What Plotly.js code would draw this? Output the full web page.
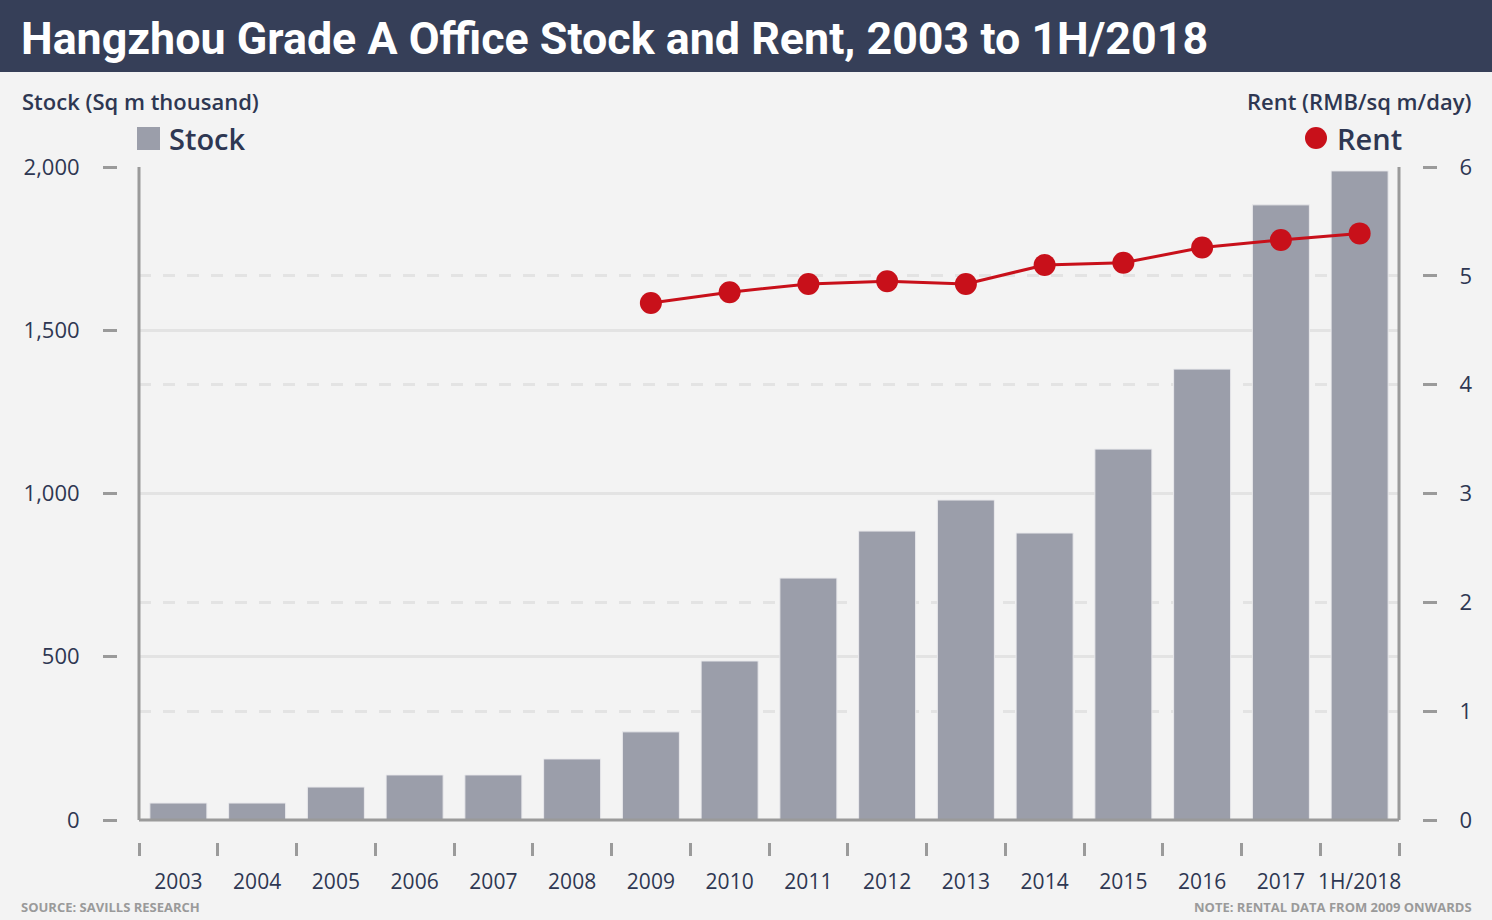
<!DOCTYPE html>
<html>
<head>
<meta charset="utf-8">
<script src="https://cdn.plot.ly/plotly-3.0.1.min.js"></script>
<style>
  html, body { margin: 0; padding: 0; background: #f3f3f3; }
  #chart { width: 1492px; height: 920px; }
</style>
</head>
<body>
<div id="chart"></div>
<script>
// ---- Data ----
const categories = ['2003','2004','2005','2006','2007','2008','2009','2010','2011','2012','2013','2014','2015','2016','2017','1H/2018'];
const stockValues = [52, 52, 101, 138, 138, 187, 270, 487, 741, 885, 980, 879, 1136, 1381, 1884, 1988];
const rentCategories = ['2009','2010','2011','2012','2013','2014','2015','2016','2017','1H/2018'];
const rentValues = [4.75, 4.85, 4.925, 4.95, 4.925, 5.10, 5.12, 5.26, 5.33, 5.39];
const stockTicks = [0, 500, 1000, 1500, 2000];
const rentTicks = [0, 1, 2, 3, 4, 5, 6];

// ---- Geometry helpers (pixel -> paper) ----
const W = 1492, H = 920;
const ML = 117, MR = 70, MT = 167, MB = 78;
const PW = W - ML - MR, PH = H - MT - MB;
const px = x => (x - ML) / PW;
const py = y => (H - MB - y) / PH;

const textColor = '#2e3752';
const tickGrey = '#9a9a9a';
const stockColor = '#9b9eaa';
const rentColor = '#c8101a';
const baseFont = '"Open Sans", sans-serif';

const traces = [
  {
    type: 'bar',
    x: categories,
    y: stockValues,
    name: 'Stock',
    marker: { color: stockColor, line: { color: '#e9e9ec', width: 1 } },
    showlegend: false,
    hoverinfo: 'x+y'
  },
  {
    type: 'scatter',
    mode: 'lines+markers',
    x: rentCategories,
    y: rentValues,
    yaxis: 'y2',
    name: 'Rent',
    line: { color: rentColor, width: 3 },
    marker: { color: rentColor, size: 22 },
    showlegend: false,
    hoverinfo: 'x+y'
  }
];

const layout = {
  width: W, height: H,
  margin: { l: ML, r: MR, t: MT, b: MB, pad: 0 },
  paper_bgcolor: '#f3f3f3',
  plot_bgcolor: '#f3f3f3',
  font: { family: baseFont, color: textColor, size: 22 },
  bargap: 0.276,
  title: {
    text: 'Hangzhou Grade A Office Stock and Rent, 2003 to 1H/2018',
    xref: 'container', yref: 'container',
    x: 21 / W, xanchor: 'left',
    y: 1 - 38 / H, yanchor: 'middle',
    font: { family: 'Roboto, sans-serif', size: 44.8, color: '#ffffff', weight: 700 }
  },
  xaxis: {
    type: 'category',
    domain: [px(139), px(1399)],
    anchor: 'free', position: 0,
    range: [-0.5, categories.length - 0.5],
    showline: false, showgrid: false, zeroline: false,
    ticks: 'outside', tickson: 'boundaries', ticklen: 13, tickwidth: 3, tickcolor: tickGrey,
    tickangle: 0,
    ticklabelstandoff: 25,
    tickfont: { size: 21, color: textColor }
  },
  yaxis: {
    domain: [py(820), 1],
    anchor: 'free', position: 0,
    range: [0, 2000],
    tickvals: stockTicks,
    tickformat: ',d',
    showline: false, zeroline: false,
    showgrid: true, gridcolor: '#e3e3e3', gridwidth: 3,
    ticks: 'outside', ticklen: 14, tickwidth: 3, tickcolor: tickGrey,
    ticklabelstandoff: 19,
    tickfont: { size: 22, color: textColor }
  },
  yaxis2: {
    overlaying: 'y',
    side: 'right',
    anchor: 'free', position: 1,
    range: [0, 6],
    tickvals: rentTicks,
    showline: false, zeroline: false,
    showgrid: true, gridcolor: '#e3e3e3', gridwidth: 3, griddash: '12px,12px',
    ticks: 'outside', ticklen: 14, tickwidth: 3, tickcolor: tickGrey,
    ticklabelstandoff: 18,
    tickfont: { size: 22, color: textColor }
  },
  shapes: [
    // title bar
    { type: 'rect', xref: 'paper', yref: 'paper', x0: px(0), x1: px(W), y0: py(72), y1: py(0),
      fillcolor: '#363f58', line: { width: 0 }, layer: 'below' },
    // left axis line
    { type: 'line', xref: 'x domain', yref: 'y domain', x0: 0, x1: 0, y0: 0, y1: 1,
      line: { color: tickGrey, width: 3 } },
    // right axis line
    { type: 'line', xref: 'x domain', yref: 'y domain', x0: 1, x1: 1, y0: 0, y1: 1,
      line: { color: tickGrey, width: 3 } },
    // bottom axis line
    { type: 'line', xref: 'x domain', yref: 'y domain', x0: 0, x1: 1, y0: 0, y1: 0,
      line: { color: tickGrey, width: 3 } },
    // legend keys
    { type: 'rect', xref: 'paper', yref: 'paper', x0: px(137), x1: px(160), y0: py(150), y1: py(127),
      fillcolor: stockColor, line: { width: 0 } },
    { type: 'circle', xref: 'paper', yref: 'paper', x0: px(1305), x1: px(1327), y0: py(149), y1: py(127),
      fillcolor: rentColor, line: { width: 0 } }
  ],
  annotations: [
    { text: 'Stock (Sq m thousand)', xref: 'paper', yref: 'paper', x: px(20), y: py(101),
      xanchor: 'left', yanchor: 'middle', showarrow: false,
      font: { size: 22, color: textColor, weight: 600 } },
    { text: 'Rent (RMB/sq m/day)', xref: 'paper', yref: 'paper', x: px(1473), y: py(101),
      xanchor: 'right', yanchor: 'middle', showarrow: false,
      font: { size: 22, color: textColor, weight: 600 } },
    { text: 'Stock', xref: 'paper', yref: 'paper', x: px(167), y: py(138),
      xanchor: 'left', yanchor: 'middle', showarrow: false,
      font: { size: 29, color: textColor, weight: 600 } },
    { text: 'Rent', xref: 'paper', yref: 'paper', x: px(1404), y: py(138),
      xanchor: 'right', yanchor: 'middle', showarrow: false,
      font: { size: 29, color: textColor, weight: 600 } },
    { text: 'SOURCE: SAVILLS RESEARCH', xref: 'paper', yref: 'paper', x: px(19), y: py(907),
      xanchor: 'left', yanchor: 'middle', showarrow: false,
      font: { size: 13, color: '#9a9a9a', weight: 700 } },
    { text: 'NOTE: RENTAL DATA FROM 2009 ONWARDS', xref: 'paper', yref: 'paper', x: px(1474), y: py(907),
      xanchor: 'right', yanchor: 'middle', showarrow: false,
      font: { size: 13, color: '#9a9a9a', weight: 700 } }
  ]
};

Plotly.newPlot('chart', traces, layout, { displayModeBar: false });
</script>
</body>
</html>
